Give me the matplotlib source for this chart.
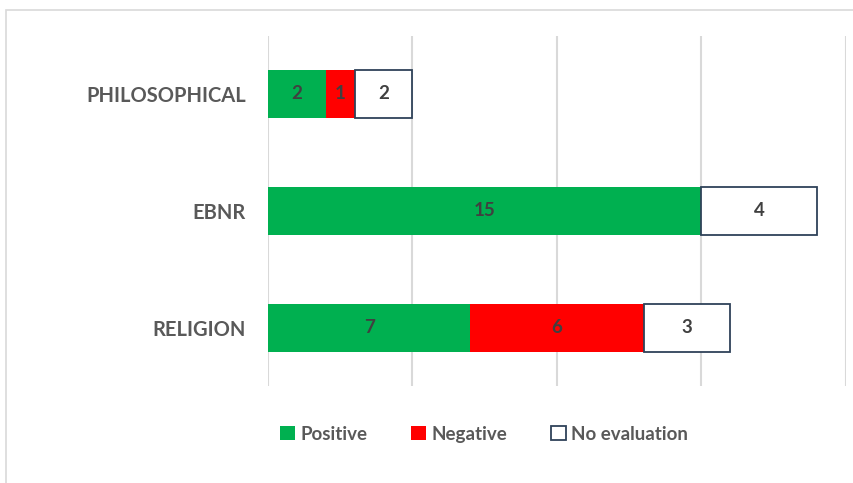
import matplotlib.pyplot as plt
from matplotlib.patches import Rectangle

categorias = ['RELIGION', 'EBNR', 'PHILOSOPHICAL']
positivo = [7, 15, 2]
negativo = [6, 0, 1]
sin_eval = [3, 4, 2]

verde = '#00B050'
rojo = '#FF0000'
borde = '#2F4259'
gris = '#595959'

plt.rcParams['font.family'] = ['Lato', 'DejaVu Sans']

fig = plt.figure(figsize=(8.54, 4.83), dpi=100)
fig.patches.append(Rectangle((0.007, -0.01), 1.0, 0.989, transform=fig.transFigure,
                             fill=False, edgecolor='#d9d9d9', linewidth=1.2))
ax = fig.add_axes([0.3138, 0.2008, 0.6768, 0.7257])

y = range(len(categorias))
alto = 0.41
b1 = ax.barh(y, positivo, height=alto, color=verde, label='Positive')
izq2 = positivo
b2 = ax.barh(y, negativo, height=alto, left=izq2, color=rojo, label='Negative')
izq3 = [p + n for p, n in zip(positivo, negativo)]
b3 = ax.barh(y, sin_eval, height=alto, left=izq3, color='white',
             edgecolor=borde, linewidth=1.3, label='No evaluation')

for barras, vals in [(b1, positivo), (b2, negativo), (b3, sin_eval)]:
    for r, v in zip(barras, vals):
        if v == 0:
            continue
        ax.text(r.get_x() + r.get_width() / 2, r.get_y() + r.get_height() / 2, str(v),
                ha='center', va='center', fontsize=13.5, color='#404040', fontweight='bold')

ax.set_xlim(0, 20)
ax.set_ylim(-0.5, 2.5)
ax.set_xticks([0, 5, 10, 15, 20])
ax.xaxis.grid(True, color='#d9d9d9', linewidth=1.5)
ax.set_axisbelow(True)
ax.tick_params(axis='x', length=0, labelbottom=False)
ax.tick_params(axis='y', length=0, pad=16)
ax.set_yticks(list(y))
ax.set_yticklabels(categorias, fontsize=14.5, color=gris, fontweight='bold')
for s in ax.spines.values():
    s.set_visible(False)

fig.legend(handles=[b1, b2, b3], loc='center', bbox_to_anchor=(0.567, 0.101), ncol=3,
           frameon=False, prop={'size': 13.5, 'weight': 'bold'}, labelcolor=gris,
           handlelength=0.8, handleheight=0.8, handletextpad=0.3, columnspacing=2.3)

plt.savefig('out.png', dpi=100)
